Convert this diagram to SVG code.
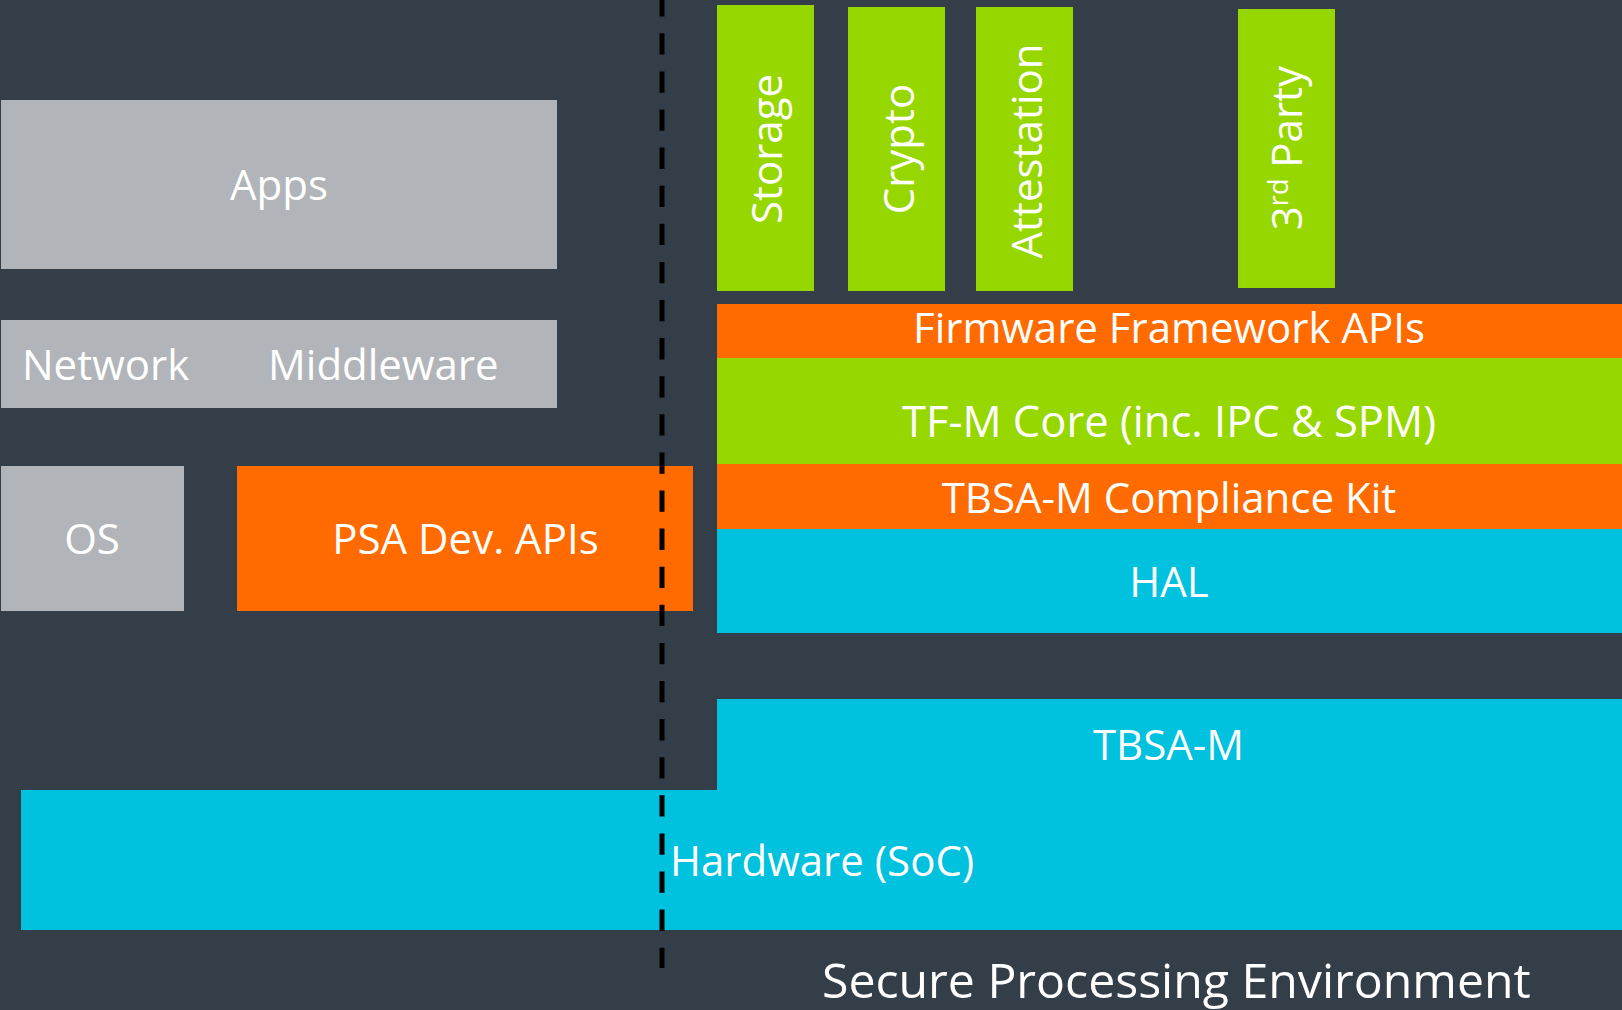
<svg xmlns="http://www.w3.org/2000/svg" width="1622" height="1010" viewBox="0 0 1622 1010">
<style>
.t{font-family:"Open Sans","Liberation Sans",sans-serif;font-size:42px;fill:#ffffff}
.c{text-anchor:middle}
.grey{fill:#b1b5b9}
.green{fill:#97d700}
.orange{fill:#ff6b00}
.cyan{fill:#00c1de}
</style>
<rect x="0" y="0" width="1622" height="1010" fill="#343e49"/>
<g id="apps"><rect class="grey" x="1" y="100" width="556" height="169"/><text class="t c" x="279" y="200">Apps</text></g>
<g id="network-middleware"><rect class="grey" x="1" y="320" width="556" height="88"/><text class="t" x="22" y="380">Network</text><text class="t" x="268" y="380">Middleware</text></g>
<g id="os"><rect class="grey" x="1" y="466" width="183" height="145"/><text class="t c" x="92" y="554">OS</text></g>
<g id="psa-dev-apis"><rect class="orange" x="237" y="466" width="456" height="145"/><text class="t c" x="465.5" y="554">PSA Dev. APIs</text></g>
<g id="storage"><rect class="green" x="717" y="5" width="97" height="286"/><text class="t c" transform="translate(782,149) rotate(-90)">Storage</text></g>
<g id="crypto"><rect class="green" x="848" y="7" width="97" height="284"/><text class="t c" transform="translate(914,149) rotate(-90)">Crypto</text></g>
<g id="attestation"><rect class="green" x="976" y="7" width="97" height="284"/><text class="t c" transform="translate(1042,151) rotate(-90)">Attestation</text></g>
<g id="third-party"><rect class="green" x="1238" y="9" width="97" height="279"/><text class="t c" transform="translate(1302,148) rotate(-90)">3<tspan font-size="27" dy="-14">rd</tspan><tspan dy="14"> Party</tspan></text></g>
<g id="firmware-framework-apis"><rect class="orange" x="717" y="304" width="905" height="54"/><text class="t c" x="1169" y="343">Firmware Framework APIs</text></g>
<g id="tfm-core"><rect class="green" x="717" y="358" width="905" height="106"/><text class="t c" style="font-size:43.5px" x="1169" y="437">TF-M Core (inc. IPC &amp; SPM)</text></g>
<g id="tbsa-m-compliance-kit"><rect class="orange" x="717" y="464" width="905" height="65"/><text class="t c" x="1169" y="513">TBSA-M Compliance Kit</text></g>
<g id="hal"><rect class="cyan" x="717" y="529" width="905" height="104"/><text class="t c" x="1169" y="597">HAL</text></g>
<g id="tbsa-m"><rect class="cyan" x="717" y="699" width="905" height="231"/><text class="t c" x="1168.5" y="760">TBSA-M</text></g>
<g id="hardware"><rect class="cyan" x="21" y="790" width="1601" height="140"/><text class="t" x="670" y="876">Hardware (SoC)</text></g>
<g id="secure-processing-environment"><text class="t" style="font-size:48.2px" x="822" y="998">Secure Processing Environment</text></g>
<g id="connectors"><line x1="662" y1="0" x2="662" y2="968" stroke="#000000" stroke-width="5" stroke-dasharray="21.3 16.8" stroke-dashoffset="4.8"/></g>
</svg>
